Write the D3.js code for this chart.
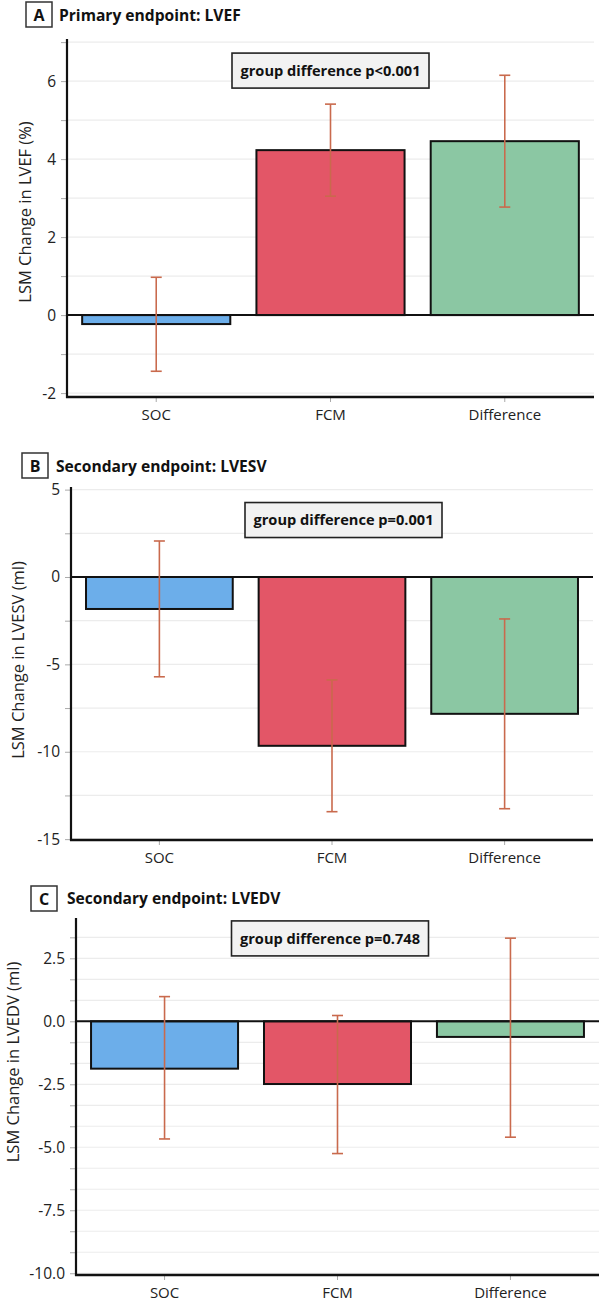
<!DOCTYPE html>
<html>
<head>
<meta charset="utf-8">
<script src="https://cdn.jsdelivr.net/npm/d3@7"></script>
<style>
  html, body { margin: 0; padding: 0; background: #fff; }
  svg { display: block; font-family: "Open Sans", "Noto Sans", sans-serif; }
</style>
</head>
<body>
<svg id="chart" width="603" height="1303"></svg>
<script>
// ---------- data ----------
const categories = ["SOC", "FCM", "Difference"];

// Panel A: LVEF (%)
const lvefMean  = [-0.23, 4.23, 4.46];
const lvefLower = [-1.44, 3.05, 2.77];
const lvefUpper = [0.97, 5.41, 6.15];
const lvefTickLabels = ["-2", "0", "2", "4", "6"];

// Panel B: LVESV (ml)
const lvesvMean  = [-1.83, -9.66, -7.83];
const lvesvLower = [-5.71, -13.43, -13.26];
const lvesvUpper = [2.06, -5.89, -2.40];
const lvesvTickLabels = ["-15", "-10", "-5", "0", "5"];

// Panel C: LVEDV (ml)
const lvedvMean  = [-1.88, -2.49, -0.62];
const lvedvLower = [-4.67, -5.25, -4.60];
const lvedvUpper = [0.98, 0.23, 3.30];
const lvedvTickLabels = ["-10.0", "-7.5", "-5.0", "-2.5", "0.0", "2.5"];

const panelLetters = ["A", "B", "C"];
const panelTitles = ["Primary endpoint: LVEF", "Secondary endpoint: LVESV", "Secondary endpoint: LVEDV"];
const yAxisTitles = ["LSM Change in LVEF (%)", "LSM Change in LVESV (ml)", "LSM Change in LVEDV (ml)"];
const pTexts = ["group difference p<0.001", "group difference p=0.001", "group difference p=0.748"];

// ---------- layout / style ----------
const barColors = ["#6caeea", "#e35667", "#8bc7a3"];
const errColor = "#c96a4d";
const gridColor = "#ececec";

const layouts = [
  { left: 67, right: 594, top: 39, bottom: 397, domain: [-2.1, 7.08], minorStep: 1,
    boxX: 26, boxY: 2, titleX: 59, titleY: 21, yLabX: 25, yLabY: 212, annX: 330.5, annY: 6.27 },
  { left: 71, right: 593, top: 487, bottom: 840, domain: [-15.05, 5.15], minorStep: 2.5,
    boxX: 22, boxY: 453, titleX: 56, titleY: 472, yLabX: 18, yLabY: 660, annX: 343.5, annY: 3.26 },
  { left: 76, right: 599, top: 918, bottom: 1275, domain: [-10.07, 4.1], minorStep: 2.5 / 3,
    boxX: 31, boxY: 886, titleX: 67, titleY: 904, yLabX: 13, yLabY: 1062, annX: 330, annY: 3.29 }
];

const panelData = [
  { mean: lvefMean, lo: lvefLower, hi: lvefUpper, ticks: lvefTickLabels },
  { mean: lvesvMean, lo: lvesvLower, hi: lvesvUpper, ticks: lvesvTickLabels },
  { mean: lvedvMean, lo: lvedvLower, hi: lvedvUpper, ticks: lvedvTickLabels }
];

const svg = d3.select("#chart");

panelData.forEach((pd, i) => {
  const L = layouts[i];
  const g = svg.append("g");

  const x = d3.scaleBand().domain(categories).range([L.left, L.right])
    .paddingInner(0.15).paddingOuter(0.087);
  const y = d3.scaleLinear().domain(L.domain).range([L.bottom, L.top]);

  // gridlines (every minor step)
  const d0 = L.domain[0], d1 = L.domain[1];
  const startK = Math.ceil((d0 - 1e-6) / L.minorStep);
  const endK = Math.floor((d1 + 1e-6) / L.minorStep);
  const gridVals = d3.range(startK, endK + 1).map(k => +(k * L.minorStep).toFixed(4));

  g.append("g").selectAll("line").data(gridVals).join("line")
    .attr("x1", L.left).attr("x2", L.right)
    .attr("y1", d => y(d)).attr("y2", d => y(d))
    .attr("stroke", gridColor).attr("stroke-width", 1.2);

  // bars
  const rows = categories.map((c, j) => ({ c, v: pd.mean[j], lo: pd.lo[j], hi: pd.hi[j], col: barColors[j] }));
  g.append("g").selectAll("rect").data(rows).join("rect")
    .attr("x", d => x(d.c))
    .attr("width", x.bandwidth())
    .attr("y", d => Math.min(y(0), y(d.v)))
    .attr("height", d => Math.abs(y(d.v) - y(0)))
    .attr("fill", d => d.col)
    .attr("stroke", "#111").attr("stroke-width", 2);

  // zero line
  g.append("line")
    .attr("x1", L.left).attr("x2", L.right)
    .attr("y1", y(0)).attr("y2", y(0))
    .attr("stroke", "#111").attr("stroke-width", 2);

  // error bars
  const eb = g.append("g").attr("stroke", errColor).attr("stroke-width", 1.6).attr("fill", "none");
  const cx = d => x(d.c) + x.bandwidth() / 2;
  eb.selectAll("line.v").data(rows).join("line").attr("class", "v")
    .attr("x1", cx).attr("x2", cx).attr("y1", d => y(d.hi)).attr("y2", d => y(d.lo));
  eb.selectAll("line.t").data(rows).join("line").attr("class", "t")
    .attr("x1", d => cx(d) - 5.5).attr("x2", d => cx(d) + 5.5).attr("y1", d => y(d.hi)).attr("y2", d => y(d.hi));
  eb.selectAll("line.b").data(rows).join("line").attr("class", "b")
    .attr("x1", d => cx(d) - 5.5).attr("x2", d => cx(d) + 5.5).attr("y1", d => y(d.lo)).attr("y2", d => y(d.lo));

  // y axis (ticks at every gridline, labels on major)
  const majorVals = pd.ticks.map(t => +t);
  const yAxis = d3.axisLeft(y).tickValues(gridVals).tickSize(6).tickPadding(5)
    .tickFormat(v => {
      const idx = majorVals.findIndex(m => Math.abs(m - v) < 1e-3);
      return idx >= 0 ? pd.ticks[idx] : "";
    });
  const ya = g.append("g").attr("transform", `translate(${L.left},0)`).call(yAxis);
  ya.select(".domain").remove();
  ya.selectAll(".tick line").attr("stroke", "#aaa").attr("stroke-width", 1);
  ya.selectAll(".tick text").attr("font-size", 15.5).attr("fill", "#222")
    .attr("font-family", "'Open Sans', sans-serif");
  g.append("line").attr("x1", L.left).attr("x2", L.left).attr("y1", L.top).attr("y2", L.bottom + 1)
    .attr("stroke", "#111").attr("stroke-width", 2.2);

  // x axis
  const xAxis = d3.axisBottom(x).tickSize(5).tickPadding(7);
  const xa = g.append("g").attr("transform", `translate(0,${L.bottom})`).call(xAxis);
  xa.select(".domain").remove();
  xa.selectAll(".tick line").attr("stroke", "#aaa").attr("stroke-width", 1);
  xa.selectAll(".tick text").attr("font-size", 15).attr("fill", "#222")
    .attr("font-family", "'Open Sans', sans-serif");
  g.append("line").attr("x1", L.left - 1).attr("x2", L.right).attr("y1", L.bottom).attr("y2", L.bottom)
    .attr("stroke", "#111").attr("stroke-width", 2.4);

  // y axis title
  g.append("text")
    .attr("transform", `translate(${L.yLabX},${L.yLabY}) rotate(-90)`)
    .attr("text-anchor", "middle").attr("dy", "0.35em")
    .attr("font-size", 16.5).attr("fill", "#222")
    .text(yAxisTitles[i]);

  // panel letter box + title
  g.append("rect").attr("x", L.boxX).attr("y", L.boxY).attr("width", 26).attr("height", 25)
    .attr("fill", "#fff").attr("stroke", "#333").attr("stroke-width", 1.5);
  g.append("text").attr("x", L.boxX + 13).attr("y", L.boxY + 19)
    .attr("text-anchor", "middle").attr("font-size", 16).attr("font-weight", 700).attr("fill", "#111")
    .text(panelLetters[i]);
  g.append("text").attr("x", L.titleX).attr("y", L.titleY)
    .attr("font-size", 15.6).attr("font-weight", 700).attr("fill", "#111")
    .text(panelTitles[i]);

  // annotation box
  const ann = g.append("g");
  ann.append("text").attr("x", L.annX).attr("y", y(L.annY)).attr("dy", "0.35em")
    .attr("text-anchor", "middle").attr("font-size", 14.6).attr("font-weight", 700).attr("fill", "#111")
    .text(pTexts[i]);
  const bw = 197, bh = 35;
  ann.insert("rect", "text")
    .attr("x", L.annX - bw / 2).attr("y", y(L.annY) - bh / 2)
    .attr("width", bw).attr("height", bh)
    .attr("fill", "#f2f2f2").attr("stroke", "#222").attr("stroke-width", 1.6);
});
</script>
</body>
</html>
